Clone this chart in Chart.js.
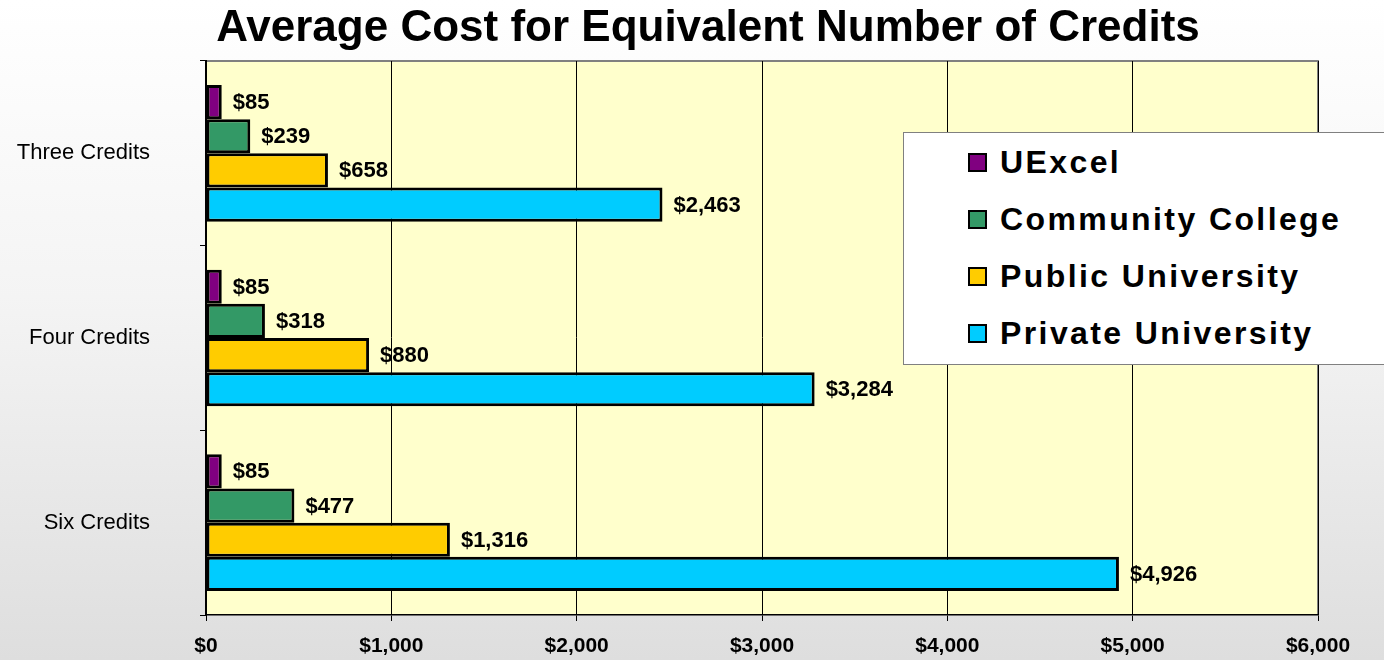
<!DOCTYPE html>
<html>
<head>
<meta charset="utf-8">
<script src="https://cdn.jsdelivr.net/npm/chart.js@4"></script>
<style>
  html, body { margin: 0; padding: 0; }
  body {
    width: 1384px; height: 660px; overflow: hidden; position: relative;
    background: linear-gradient(to bottom, #ffffff 0%, #f4f4f4 45%, #dedede 100%);
    font-family: "Liberation Sans", Arial, sans-serif;
  }
  #title {
    position: absolute; left: 0; top: 1px; width: 1416px; text-align: center;
    font-weight: bold; font-size: 44px; line-height: 50px; color: #000;
  }
  #wrap { position: absolute; left: 0; top: 0; width: 1384px; height: 660px; }
  #legend {
    position: absolute; left: 903px; top: 132px; width: 490px; height: 233px;
    background: #fff; border: 1px solid #808080; box-sizing: border-box;
    padding: 1px 0 0 64px;
  }
  .item { display: flex; align-items: center; height: 57px; font-weight: bold; font-size: 32px; letter-spacing: 2.4px; }
  .swatch { width: 15px; height: 15px; border: 2px solid #000; margin-right: 13px; }
</style>
</head>
<body>
<div id="wrap"><canvas id="myChart" width="1384" height="660"></canvas></div>
<div id="title">Average Cost for Equivalent Number of Credits</div>
<div id="legend"></div>
<script>
const categories = ['Three Credits', 'Four Credits', 'Six Credits'];
const seriesNames = ['UExcel', 'Community College', 'Public University', 'Private University'];
const uexcel = [85, 85, 85];
const communityCollege = [239, 318, 477];
const publicUniversity = [658, 880, 1316];
const privateUniversity = [2463, 3284, 4926];
const xTicks = [0, 1000, 2000, 3000, 4000, 5000, 6000];
const colors = ['#800080', '#339966', '#FFCC00', '#00CCFF'];

const fmt = v => '$' + v.toLocaleString('en-US');

const plotBackground = {
  id: 'plotBackground',
  beforeDraw(chart) {
    const { ctx, chartArea: a } = chart;
    ctx.save();
    ctx.fillStyle = '#FFFFCC';
    ctx.fillRect(a.left, a.top, a.right - a.left, a.bottom - a.top);
    ctx.strokeStyle = '#808080';
    ctx.lineWidth = 2;
    ctx.beginPath();
    ctx.moveTo(a.left, a.top);
    ctx.lineTo(a.right, a.top);
    ctx.lineTo(a.right, a.bottom);
    ctx.stroke();
    ctx.restore();
  }
};

const valueLabels = {
  id: 'valueLabels',
  afterDatasetsDraw(chart) {
    const ctx = chart.ctx;
    ctx.save();
    ctx.font = 'bold 22px "Liberation Sans", Arial, sans-serif';
    ctx.fillStyle = '#000';
    ctx.textBaseline = 'middle';
    ctx.textAlign = 'left';
    chart.data.datasets.forEach((ds, i) => {
      chart.getDatasetMeta(i).data.forEach((bar, j) => {
        ctx.fillText(fmt(ds.data[j]), bar.x + 11, bar.y + 1);
      });
    });
    ctx.restore();
  }
};

const datasets = [uexcel, communityCollege, publicUniversity, privateUniversity].map((d, i) => ({
  label: seriesNames[i],
  data: d,
  backgroundColor: colors[i],
  borderColor: '#000',
  borderWidth: 3,
  borderSkipped: false,
  categoryPercentage: 0.74,
  barPercentage: 1.0
}));

const chart = new Chart(document.getElementById('myChart'), {
  type: 'bar',
  data: { labels: categories, datasets: datasets },
  options: {
    indexAxis: 'y',
    responsive: false,
    animation: false,
    layout: { padding: { left: 0, right: 66, top: 61, bottom: 0 } },
    plugins: { legend: { display: false }, tooltip: { enabled: false } },
    scales: {
      x: {
        min: 0, max: 6000,
        afterBuildTicks: s => { s.ticks = xTicks.map(v => ({ value: v })); },
        afterFit: s => { s.height = 45; },
        grid: { color: '#000', lineWidth: 1, tickLength: 6, tickColor: '#000' },
        border: { color: '#000', width: 1.5 },
        ticks: {
          color: '#000', padding: 13,
          font: { family: '"Liberation Sans", Arial, sans-serif', size: 21, weight: 'bold' },
          callback: v => fmt(v)
        }
      },
      y: {
        afterFit: s => { s.width = 206; s.paddingTop = 0; s.paddingBottom = 0; },
        grid: { drawOnChartArea: false, tickLength: 6, color: '#000', offset: true },
        border: { color: '#000', width: 2 },
        ticks: {
          color: '#000', padding: 50,
          font: { family: '"Liberation Sans", Arial, sans-serif', size: 22 }
        }
      }
    }
  },
  plugins: [plotBackground, valueLabels]
});

const legendEl = document.getElementById('legend');
chart.data.datasets.forEach(ds => {
  const row = document.createElement('div');
  row.className = 'item';
  const sw = document.createElement('span');
  sw.className = 'swatch';
  sw.style.background = ds.backgroundColor;
  const txt = document.createElement('span');
  txt.textContent = ds.label;
  row.appendChild(sw);
  row.appendChild(txt);
  legendEl.appendChild(row);
});
</script>
</body>
</html>
